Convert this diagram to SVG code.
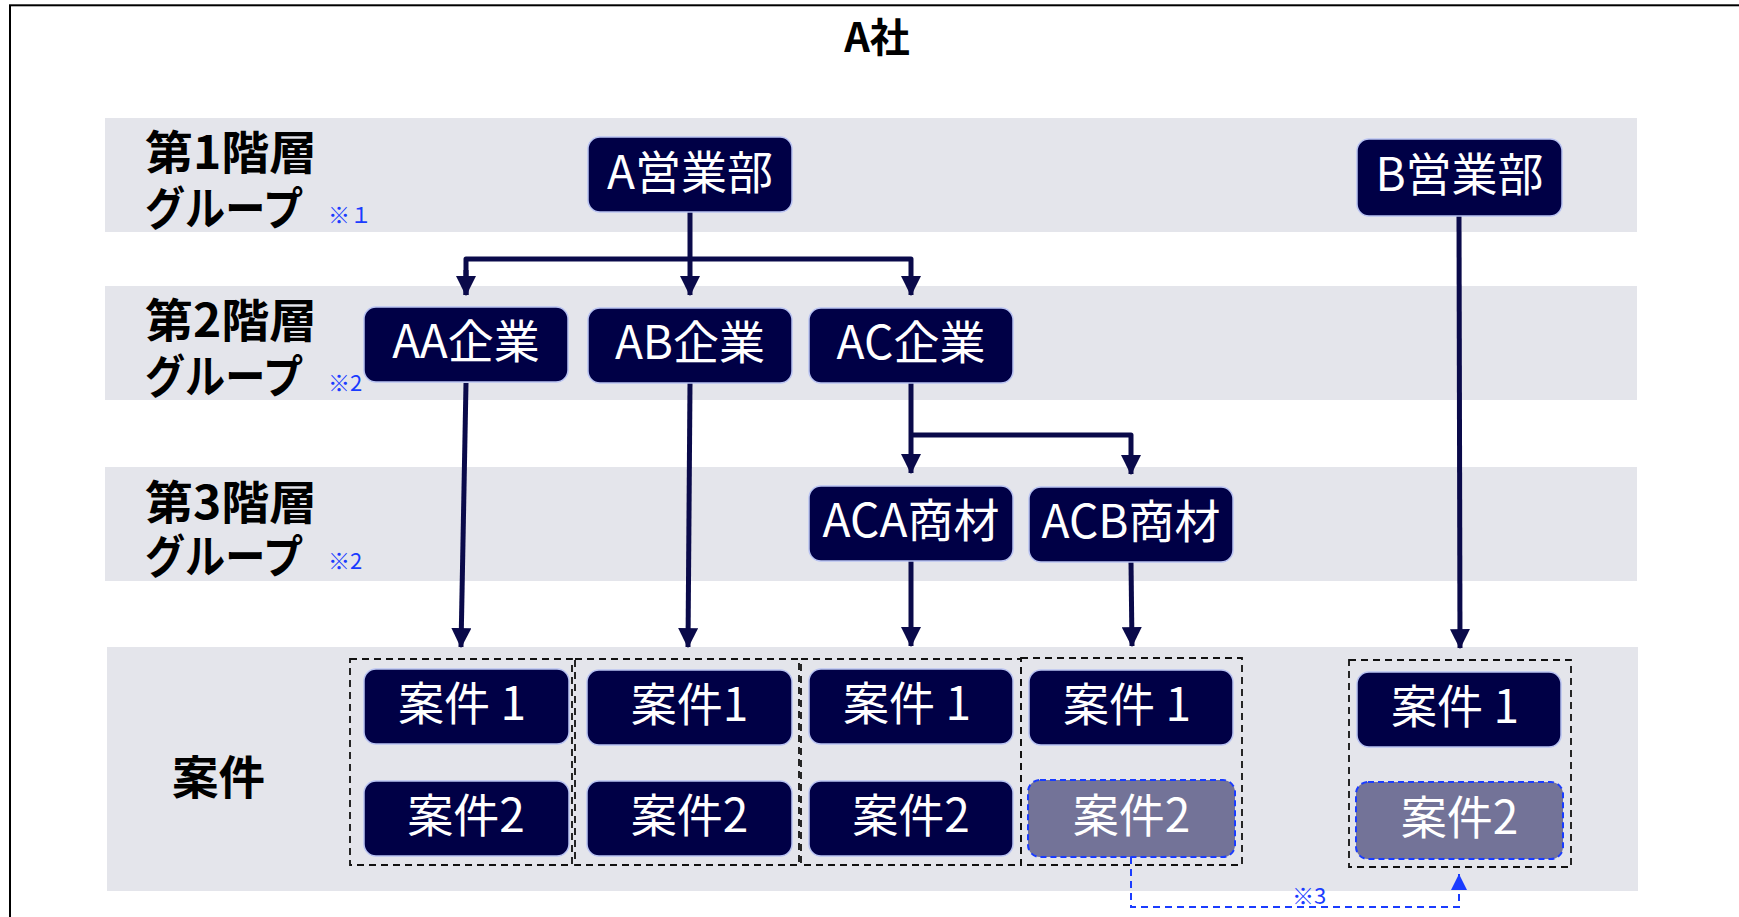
<svg xmlns="http://www.w3.org/2000/svg" width="1739" height="917" viewBox="0 0 1739 917">
  <style>
    .band{fill:#e4e5eb}
    .lbl{font-family:"Noto Sans CJK JP","Noto Sans",sans-serif;font-weight:bold;font-size:46px;fill:#000}
    .note{font-family:"Noto Sans CJK JP","Noto Sans",sans-serif;font-size:22px;fill:#1a3cff}
    .node{fill:#000046;stroke:#b9c3f2;stroke-width:1.5}
    .gnode{fill:#737398;stroke:#1a3cff;stroke-width:2;stroke-dasharray:6 4}
    .nt{font-family:"Noto Sans CJK JP","Noto Sans",sans-serif;font-size:46px;fill:#fff;text-anchor:middle}
    .box{fill:none;stroke:#111;stroke-width:1.8;stroke-dasharray:7 5}
    .conn{fill:none;stroke:#0a0a4a;stroke-width:5;stroke-linejoin:round}
    .dconn{fill:none;stroke:#1a3cff;stroke-width:2;stroke-dasharray:7 5}
  </style>
  <defs>
    <marker id="arr" markerUnits="userSpaceOnUse" markerWidth="20" markerHeight="20" viewBox="0 0 18 18" refX="17" refY="9" orient="auto">
      <path d="M0,0 L18,9 L0,18 Z" fill="#0a0a4a"/>
    </marker>
    <marker id="barr" markerUnits="userSpaceOnUse" markerWidth="16" markerHeight="16" viewBox="0 0 15 15" refX="15" refY="7.5" orient="auto">
      <path d="M0,0 L15,7.5 L0,15 Z" fill="#1a3cff"/>
    </marker>
  </defs>

  <rect x="0" y="0" width="1739" height="917" fill="#fff"/>
  <!-- outer frame -->
  <rect x="10" y="5.3" width="1800" height="1000" fill="none" stroke="#000" stroke-width="2"/>
  <text x="877" y="52" font-family="'Noto Sans CJK JP','Noto Sans',sans-serif" font-weight="bold" font-size="40" text-anchor="middle">A社</text>

  <!-- bands -->
  <g id="bands">
    <rect class="band" x="105" y="118" width="1532" height="114"/>
    <rect class="band" x="105" y="286" width="1532" height="114"/>
    <rect class="band" x="105" y="467" width="1532" height="114"/>
    <rect class="band" x="107" y="647" width="1531" height="244"/>
  </g>

  <!-- row labels -->
  <g id="labels">
    <text class="lbl" x="145" y="169" textLength="172" lengthAdjust="spacingAndGlyphs">第1階層</text>
    <text class="lbl" x="145" y="225" textLength="158" lengthAdjust="spacingAndGlyphs">グループ</text>
    <text class="note" x="328" y="223">※１</text>
    <text class="lbl" x="145" y="337" textLength="172" lengthAdjust="spacingAndGlyphs">第2階層</text>
    <text class="lbl" x="145" y="393" textLength="158" lengthAdjust="spacingAndGlyphs">グループ</text>
    <text class="note" x="328" y="391">※2</text>
    <text class="lbl" x="145" y="519" textLength="172" lengthAdjust="spacingAndGlyphs">第3階層</text>
    <text class="lbl" x="145" y="573" textLength="158" lengthAdjust="spacingAndGlyphs">グループ</text>
    <text class="note" x="328" y="569">※2</text>
    <text class="lbl" x="172" y="794" textLength="93" lengthAdjust="spacingAndGlyphs">案件</text>
  </g>

  <!-- dashed group boxes -->
  <g id="groups">
    <rect class="box" x="350" y="659" width="222" height="206"/>
    <rect class="box" x="575" y="659" width="224" height="206"/>
    <rect class="box" x="801" y="659" width="220" height="206"/>
    <rect class="box" x="1021" y="658" width="221" height="207"/>
    <rect class="box" x="1349" y="660" width="222" height="207"/>
  </g>

  <!-- connectors -->
  <g id="connectors">
    <path class="conn" d="M690,212 L690,295" marker-end="url(#arr)"/>
    <path class="conn" d="M466,295 L466,259 L911,259 L911,295" marker-end="url(#arr)"/>
    <path class="conn" d="M466,270 L466,295" marker-end="url(#arr)"/>
    <path class="conn" d="M466,383 L461,647" marker-end="url(#arr)"/>
    <path class="conn" d="M690,383 L688,647" marker-end="url(#arr)"/>
    <path class="conn" d="M911,383 L911,473" marker-end="url(#arr)"/>
    <path class="conn" d="M911,435 L1131,435 L1131,474" marker-end="url(#arr)"/>
    <path class="conn" d="M911,561 L911,646" marker-end="url(#arr)"/>
    <path class="conn" d="M1131,562 L1132,646" marker-end="url(#arr)"/>
    <path class="conn" d="M1459,216 L1460,648" marker-end="url(#arr)"/>
    <path class="dconn" d="M1131,857 L1131,907 L1459,907 L1459,874" marker-end="url(#barr)"/>
    <text class="note" x="1309" y="904" text-anchor="middle">※3</text>
  </g>

  <!-- nodes -->
  <g id="n-a"><rect class="node" x="588" y="137" width="204" height="75" rx="12"/><text class="nt" x="690" y="189">A営業部</text></g>
  <g id="n-b"><rect class="node" x="1357" y="139" width="205" height="77" rx="12"/><text class="nt" x="1459.5" y="191">B営業部</text></g>
  <g id="n-aa"><rect class="node" x="364" y="307" width="204" height="75" rx="12"/><text class="nt" x="466" y="358">AA企業</text></g>
  <g id="n-ab"><rect class="node" x="588" y="308" width="204" height="75" rx="12"/><text class="nt" x="690" y="359">AB企業</text></g>
  <g id="n-ac"><rect class="node" x="809" y="308" width="204" height="75" rx="12"/><text class="nt" x="911" y="359">AC企業</text></g>
  <g id="n-aca"><rect class="node" x="809" y="486" width="204" height="75" rx="12"/><text class="nt" x="911" y="537">ACA商材</text></g>
  <g id="n-acb"><rect class="node" x="1029" y="487" width="204" height="75" rx="12"/><text class="nt" x="1131" y="538">ACB商材</text></g>

  <g id="c1-1"><rect class="node" x="364" y="669" width="205" height="75" rx="12"/><text class="nt" x="462" y="720">案件 1</text></g>
  <g id="c1-2"><rect class="node" x="364" y="781" width="205" height="75" rx="12"/><text class="nt" x="466" y="832">案件2</text></g>
  <g id="c2-1"><rect class="node" x="587" y="670" width="205" height="75" rx="12"/><text class="nt" x="689.5" y="721">案件1</text></g>
  <g id="c2-2"><rect class="node" x="587" y="781" width="205" height="75" rx="12"/><text class="nt" x="689.5" y="832">案件2</text></g>
  <g id="c3-1"><rect class="node" x="809" y="669" width="204" height="75" rx="12"/><text class="nt" x="907" y="720">案件 1</text></g>
  <g id="c3-2"><rect class="node" x="809" y="781" width="204" height="75" rx="12"/><text class="nt" x="911" y="832">案件2</text></g>
  <g id="c4-1"><rect class="node" x="1029" y="670" width="204" height="75" rx="12"/><text class="nt" x="1127" y="721">案件 1</text></g>
  <g id="c4-2"><rect class="gnode" x="1028" y="780" width="207" height="77" rx="12"/><text class="nt" x="1131.5" y="832">案件2</text></g>
  <g id="c5-1"><rect class="node" x="1357" y="672" width="204" height="75" rx="12"/><text class="nt" x="1455" y="723">案件 1</text></g>
  <g id="c5-2"><rect class="gnode" x="1356" y="782" width="207" height="77" rx="12"/><text class="nt" x="1459.5" y="834">案件2</text></g>
</svg>
